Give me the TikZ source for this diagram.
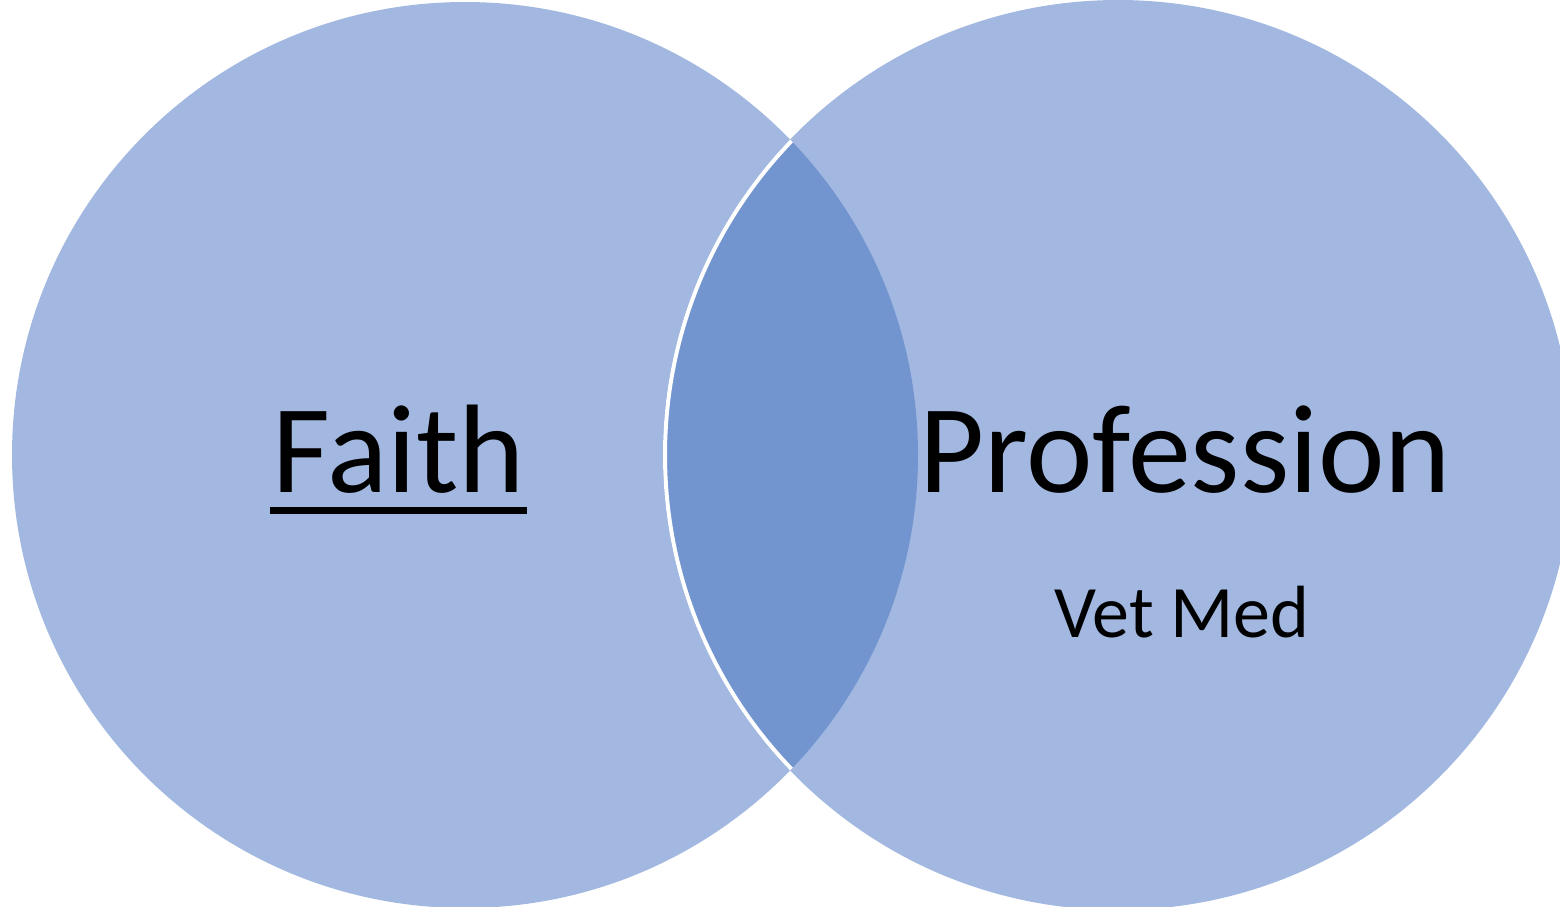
\documentclass[tikz,border=0pt]{standalone}
\usepackage{fontspec}
\setmainfont{Carlito}
\definecolor{lightblue}{HTML}{A2B8E0}
\definecolor{darkblue}{HTML}{7395CF}
\tikzset{
  setfill/.style={fill=lightblue},
  bigtext/.style={font=\fontsize{126}{130}\selectfont, anchor=base, inner sep=0pt, text=black},
  smalltext/.style={font=\fontsize{74}{80}\selectfont, anchor=base, inner sep=0pt, text=black}
}
\begin{document}
\begin{tikzpicture}[x=1pt,y=-1pt]
\useasboundingbox (0,0) rectangle (1560,906);
\clip (0,0) rectangle (1560,906);
\coordinate (cl) at (465,455);
\coordinate (cr) at (1118,455);
\fill[setfill] (cl) circle (453);
\fill[setfill] (cr) circle (455);
\begin{scope}
  \clip (cl) circle (453);
  \fill[darkblue] (cr) circle (455);
  \draw[white, line width=4] (cr) circle (453);
\end{scope}
\node[bigtext] (faith) at (399,492) {Faith};
\fill[black] (270,507) rectangle (527,514);
\node[bigtext] (prof) at (1185,492) {Profession};
\node[smalltext] (vet) at (1182,637) {Vet Med};
\end{tikzpicture}
\end{document}
